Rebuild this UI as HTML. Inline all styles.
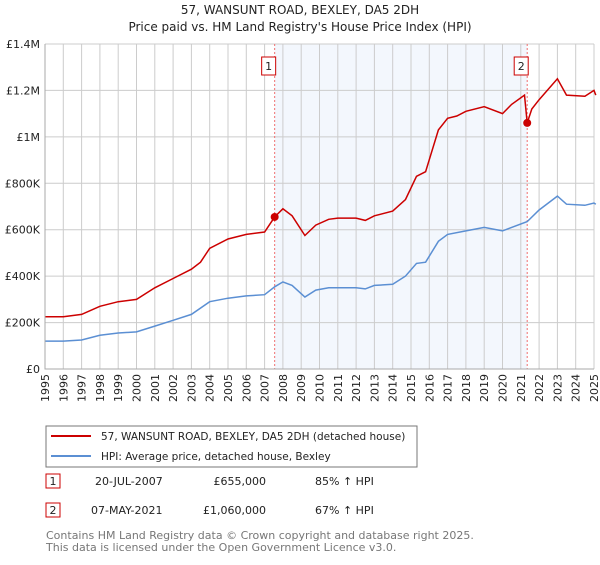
<!DOCTYPE html>
<html><head><meta charset="utf-8"><style>
body{margin:0;background:#fff;font-family:"Liberation Sans","DejaVu Sans",sans-serif;}
svg text{font-family:"DejaVu Sans","Liberation Sans",sans-serif;}
</style></head><body>
<svg id="c" width="600" height="560" xmlns="http://www.w3.org/2000/svg">
<text x="300" y="14" text-anchor="middle" font-size="12" fill="#222">57, WANSUNT ROAD, BEXLEY, DA5 2DH</text>
<text x="300" y="31" text-anchor="middle" font-size="12" fill="#222">Price paid vs. HM Land Registry's House Price Index (HPI)</text>
<g id="plot"></g>
<rect x="46" y="426" width="371" height="41" fill="#fff" stroke="#777"/>
<line x1="51" y1="436" x2="91" y2="436" stroke="#cc0000" stroke-width="2"/>
<text x="101" y="440" font-size="10.5" fill="#222">57, WANSUNT ROAD, BEXLEY, DA5 2DH (detached house)</text>
<line x1="51" y1="456" x2="91" y2="456" stroke="#5b8fd3" stroke-width="2"/>
<text x="101" y="460" font-size="10.5" fill="#222">HPI: Average price, detached house, Bexley</text>
<g font-size="11" fill="#222">
<rect x="46" y="474" width="14" height="14" fill="none" stroke="#cc0000"/>
<text x="53" y="485" text-anchor="middle">1</text>
<text x="95" y="485">20-JUL-2007</text>
<text x="266" y="485" text-anchor="end">£655,000</text>
<text x="315" y="485">85% ↑ HPI</text>
<rect x="46" y="503" width="14" height="14" fill="none" stroke="#cc0000"/>
<text x="53" y="514" text-anchor="middle">2</text>
<text x="91" y="514">07-MAY-2021</text>
<text x="266" y="514" text-anchor="end">£1,060,000</text>
<text x="315" y="514">67% ↑ HPI</text>
</g>
<text x="46" y="539" font-size="11" fill="#777">Contains HM Land Registry data © Crown copyright and database right 2025.</text>
<text x="46" y="551" font-size="11" fill="#777">This data is licensed under the Open Government Licence v3.0.</text>
</svg>
<script>
const hpiYears=[1995,1996,1997,1998,1999,2000,2001,2002,2003,2004,2005,2006,2007,2007.55,2008,2008.5,2009.2,2009.8,2010.5,2011,2012,2012.5,2013,2014,2014.7,2015.3,2015.8,2016.5,2017,2018,2019,2020,2020.5,2021.35,2022,2023,2023.5,2024.5,2025,2025.1];
const hpiValues=[120,120,125,145,155,160,185,210,235,290,305,315,320,354,375,360,310,340,350,350,350,345,360,365,400,455,460,550,580,595,610,595,610,635,685,745,710,705,715,710];
const priceYears=[1995,1996,1997,1998,1999,2000,2001,2002,2003,2003.5,2004,2005,2006,2007,2007.55,2008,2008.5,2009.2,2009.8,2010.5,2011,2012,2012.5,2013,2014,2014.7,2015.3,2015.8,2016.5,2017,2017.5,2018,2019,2020,2020.5,2021.2,2021.35,2021.6,2022,2023,2023.5,2024.5,2025,2025.1];
const priceValues=[225,225,235,270,290,300,350,390,430,460,520,560,580,590,655,690,660,575,620,645,650,650,640,660,680,730,830,850,1030,1080,1090,1110,1130,1100,1140,1180,1060,1120,1160,1250,1180,1175,1200,1180];
const saleYears=[2007.55,2021.35];
const saleValues=[655,1060];
const saleLabels=["1","2"];
const yTicks=[0,200,400,600,800,1000,1200,1400];
const yTickLabels=["£0","£200K","£400K","£600K","£800K","£1M","£1.2M","£1.4M"];
const xTicks=[1995,1996,1997,1998,1999,2000,2001,2002,2003,2004,2005,2006,2007,2008,2009,2010,2011,2012,2013,2014,2015,2016,2017,2018,2019,2020,2021,2022,2023,2024,2025];

const X0=45,X1=594,Y0=369,Y1=44;
const xs=y=>X0+(y-1995)/30*(X1-X0);
const ys=v=>Y0-v/1400*(Y0-Y1);
const NS="http://www.w3.org/2000/svg";
const g=document.getElementById('plot');
function mk(t,a){const e=document.createElementNS(NS,t);for(const k in a)e.setAttribute(k,a[k]);g.appendChild(e);return e;}
let r=mk('rect',{x:xs(saleYears[0]),y:Y1,width:xs(saleYears[1])-xs(saleYears[0]),height:Y0-Y1,fill:'#eef3fc',opacity:0.7});


xTicks.forEach(t=>{
 const l=mk('line',{x1:xs(t),x2:xs(t),y1:Y1,y2:Y0,stroke:'#ccc','stroke-width':1});
 
 
 const px=xs(t)+4, py=374;
 const tx=mk('text',{x:px,y:py,'font-size':11,fill:'#222','text-anchor':'end',transform:`rotate(-90 ${px} ${py})`});
 tx.textContent=t;
 
 
});
yTicks.forEach((t,i)=>{
 const l=mk('line',{x1:X0,x2:X1,y1:ys(t),y2:ys(t),stroke:'#ccc','stroke-width':1});
 
 
 const tx=mk('text',{x:40,y:ys(t)+4,'font-size':11,fill:'#222','text-anchor':'end'});
 tx.textContent=yTickLabels[i];
 
 
});
saleYears.forEach((y,i)=>{
 const l=mk('line',{x1:xs(y),x2:xs(y),y1:Y1,y2:Y0,stroke:'#f07070','stroke-width':1,'stroke-dasharray':'2,2'});
 
 
 const b=mk('rect',{x:xs(y)-13,y:57,width:14,height:18,fill:'#fff',stroke:'#cc0000'});
 
 
 const t=mk('text',{x:xs(y)-6,y:70,'font-size':11,fill:'#222','text-anchor':'middle'});
 t.textContent=saleLabels[i];
 
 
});
const path=(xa,va)=>xa.map((y,i)=>(i?'L':'M')+xs(y).toFixed(1)+','+ys(va[i]).toFixed(1)).join('');
const h=mk('path',{d:path(hpiYears,hpiValues),fill:'none',stroke:'#5b8fd3','stroke-width':1.5});


const p=mk('path',{d:path(priceYears,priceValues),fill:'none',stroke:'#cc0000','stroke-width':1.5});


saleYears.forEach((y,i)=>{
 const c=mk('circle',{cx:xs(y),cy:ys(saleValues[i]),r:4,fill:'#cc0000'});
 
 
});
const ax=mk('path',{d:`M${X0},${Y1}V${Y0}H${X1}`,fill:'none',stroke:'#aaa'});


</script>
</body></html>
